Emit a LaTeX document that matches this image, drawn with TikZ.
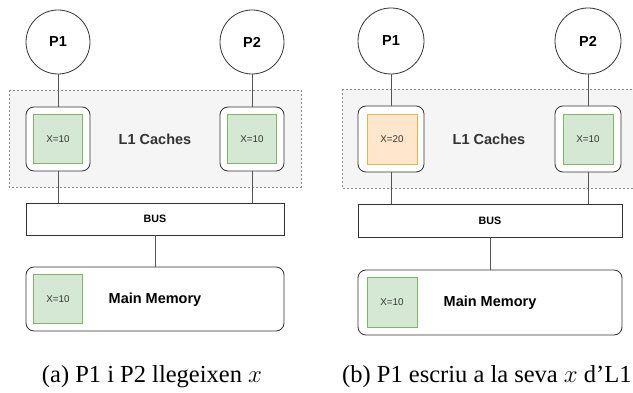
\documentclass[tikz,border=0pt]{standalone}
\usepackage{fontspec}
\setmainfont{Liberation Serif}
\setsansfont{Liberation Sans}
\definecolor{gfill}{HTML}{D5E8D4}
\definecolor{gdraw}{HTML}{82B366}
\definecolor{ofill}{HTML}{FFE6CC}
\definecolor{odraw}{HTML}{E3B54A}
\definecolor{dfill}{HTML}{F5F5F5}
\definecolor{ddraw}{HTML}{8A8A8A}
\definecolor{edge}{HTML}{333333}
\definecolor{wire}{HTML}{555555}
\tikzset{
  proc/.style={circle, draw=edge, line width=0.8pt, fill=white, minimum size=64pt, inner sep=0pt, font=\sffamily\bfseries\fontsize{14.5}{16}\selectfont},
  cachebox/.style={draw=edge, line width=0.8pt, fill=white, rounded corners=8pt, minimum width=64pt, minimum height=64pt, inner sep=0pt},
  greenval/.style={draw=gdraw, fill=gfill, line width=0.8pt, minimum width=49pt, minimum height=49pt, inner sep=0pt, text=edge, font=\sffamily\fontsize{9.8}{11}\selectfont},
  orangeval/.style={greenval, draw=odraw, fill=ofill},
  busbox/.style={draw=edge, line width=0.8pt, fill=white, minimum height=32pt, inner sep=0pt, font=\sffamily\bfseries\fontsize{10.7}{12}\selectfont},
  membox/.style={draw=edge, line width=0.8pt, fill=white, rounded corners=8pt, minimum height=64pt, inner sep=0pt},
  l1region/.style={draw=ddraw, dashed, dash pattern=on 2pt off 2pt, fill=dfill, line width=0.6pt},
  biglabel/.style={font=\sffamily\bfseries\fontsize{14.5}{16}\selectfont, text=edge},
  wireline/.style={draw=wire, line width=0.8pt},
  captext/.style={font=\fontsize{24.5}{28}\selectfont, anchor=base}
}
\begin{document}
\begin{tikzpicture}[x=1pt, y=-1pt]
\useasboundingbox (0,0) rectangle (633,393);
\clip (0,0) rectangle (633,393);
% ---------- panel (a) ----------
\path[l1region] (9,90) rectangle (301,187);
\node[cachebox] (ca1) at (58,139) {};
\node[cachebox] (ca2) at (252,139) {};
\node[proc] (pa1) at (58,42) {P1};
\node[proc] (pa2) at (252,42) {P2};
\node[greenval] (va1) at (58,139) {X=10};
\node[greenval] (va2) at (252,139) {X=10};
\node[biglabel] (la) at (155,139) {L1 Caches};
\node[busbox, minimum width=258pt] (busa) at (155,219) {BUS};
\node[membox, minimum width=258pt] (mema) at (155,299) {};
\node[greenval] (vma) at (58,299) {X=10};
\node[biglabel, text=black] (mla) at (155,300) {Main Memory};
\draw[wireline] (pa1) -- (ca1);
\draw[wireline] (pa2) -- (ca2);
\draw[wireline] (ca1) -- (ca1 |- busa.north);
\draw[wireline] (ca2) -- (ca2 |- busa.north);
\draw[wireline] (busa) -- (mema);
\node[captext] (capa) at (152,383) {(a) P1 i P2 llegeixen $x$};
% ---------- panel (b) ----------
\path[l1region] (342,89) rectangle (650,188);
\node[cachebox, minimum width=66pt, minimum height=66pt] (cb1) at (391,139) {};
\node[cachebox, minimum width=66pt, minimum height=66pt] (cb2) at (588,139) {};
\node[proc, minimum size=66pt] (pb1) at (391,41) {P1};
\node[proc, minimum size=66pt] (pb2) at (588,41) {P2};
\node[orangeval, minimum width=50pt, minimum height=50pt] (vb1) at (392,139) {X=20};
\node[greenval, minimum width=50pt, minimum height=50pt] (vb2) at (588,139) {X=10};
\node[biglabel] (lb) at (489,139) {L1 Caches};
\node[busbox, minimum width=264pt, minimum height=33pt] (busb) at (490,220.5) {BUS};
\node[membox, minimum width=264pt, minimum height=65pt] (memb) at (490,302.5) {};
\node[greenval, minimum width=50pt, minimum height=50pt] (vmb) at (392,302.5) {X=10};
\node[biglabel, text=black] (mlb) at (490,303) {Main Memory};
\draw[wireline] (pb1) -- (cb1);
\draw[wireline] (pb2) -- (cb2);
\draw[wireline] (cb1) -- (cb1 |- busb.north);
\draw[wireline] (cb2) -- (cb2 |- busb.north);
\draw[wireline] (busb) -- (memb);
\node[captext, anchor=base west, inner sep=0pt] (capb) at (342,383) {(b) P1 escriu a la seva $x$ d’L1};
\end{tikzpicture}
\end{document}
